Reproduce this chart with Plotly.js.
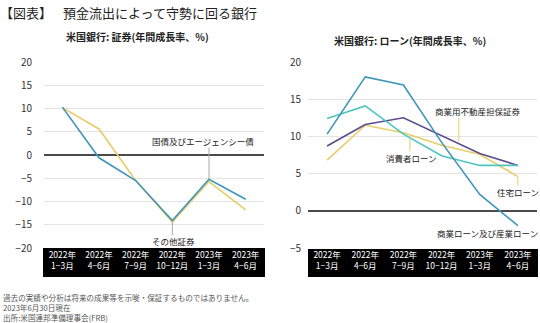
<!DOCTYPE html>
<html>
<head>
<meta charset="utf-8">
<script src="https://cdn.plot.ly/plotly-3.0.1.min.js"></script>
<style>
html,body{margin:0;padding:0;background:#fff;}
#chart{width:540px;height:323px;}
</style>
</head>
<body>
<div id="chart"></div>
<script>
// Categories (quarters)
const categories = ["2022年<br>1−3月","2022年<br>4−6月","2022年<br>7−9月","2022年<br>10−12月","2023年<br>1−3月","2023年<br>4−6月"];

// Left chart: securities (annual growth %)
const govAgencyBonds = [10.3, -0.6, -5.5, -14.1, -5.2, -9.5];
const otherSecurities = [10.2, 5.6, -5.5, -14.4, -5.7, -11.8];

// Right chart: loans (annual growth %)
const ciLoans = [10.3, 18.0, 16.9, 9.2, 2.2, -2.0];
const consumerLoans = [12.4, 14.1, 10.3, 7.4, 6.1, 6.1];
const cmbs = [8.7, 11.6, 12.5, 10.1, 7.7, 6.1];
const residentialLoans = [6.8, 11.5, 10.5, 8.8, 7.6, 4.6];

const yTicksLeft = [-20,-15,-10,-5,0,5,10,15,20];
const yTicksRight = [-5,0,5,10,15,20];

const footnotes = [
  '過去の実績や分析は将来の成果等を示唆・保証するものではありません。',
  '2023年6月30日現在',
  '出所:米国連邦準備理事会(FRB)'
];

const FONT = '"Noto Sans CJK JP", "Noto Sans", sans-serif';
const idx = categories.map((_, i) => i);

function line(y, color, xa, ya, name) {
  return {x: idx, y: y, type: 'scatter', mode: 'lines', name: name,
    line: {color: color, width: 1.6}, xaxis: xa, yaxis: ya, hoverinfo: 'skip'};
}

const traces = [
  line(otherSecurities, '#e8cd68', 'x', 'y', 'その他証券'),
  line(govAgencyBonds, '#3f95ba', 'x', 'y', '国債及びエージェンシー債'),
  line(residentialLoans, '#e8cd68', 'x2', 'y2', '住宅ローン'),
  line(cmbs, '#5b4d8d', 'x2', 'y2', '商業用不動産担保証券'),
  line(consumerLoans, '#4cc6bf', 'x2', 'y2', '消費者ローン'),
  line(ciLoans, '#3f95ba', 'x2', 'y2', '商業ローン及び産業ローン')
];

const W = 540, PT = 62, PB = 248, PH = PB - PT;
const px = v => v / W;
const py = v => (PB - v) / PH;

const xCommon = {
  tickmode: 'array', tickvals: idx, ticktext: categories,
  range: [-0.5, 5.5], showgrid: false, zeroline: false, showline: false,
  ticks: '', tickfont: {family: FONT, size: 8.5, color: '#ffffff'},
  fixedrange: true, ticklabelstandoff: 0
};
const yCommon = {
  dtick: 5, showgrid: true, gridcolor: '#e4e4e4', gridwidth: 1,
  zeroline: true, zerolinecolor: '#4a4a4a', zerolinewidth: 1.5,
  showline: false, ticks: '', tickfont: {family: FONT, size: 10, color: '#333'},
  fixedrange: true
};

const annText = (text, x, y, xref, yref, size, extra) => Object.assign({
  text: text, x: x, y: y, xref: xref, yref: yref, showarrow: false,
  font: {family: FONT, size: size, color: '#222'}, xanchor: 'center', yanchor: 'middle'
}, extra || {});

const noteFont = {family: FONT, size: 7.6, color: '#555'};

const layout = {
  width: 540, height: 323,
  margin: {l: 0, r: 0, t: PT, b: 323 - PB, pad: 0},
  paper_bgcolor: '#ffffff', plot_bgcolor: '#ffffff',
  showlegend: false,
  font: {family: FONT},
  xaxis: Object.assign({}, xCommon, {domain: [px(44), px(264)], anchor: 'y'}),
  yaxis: Object.assign({}, yCommon, {range: [-20, 20], tickvals: yTicksLeft, anchor: 'x', ticklabelstandoff: 11}),
  xaxis2: Object.assign({}, xCommon, {domain: [px(308), px(537)], anchor: 'y2'}),
  yaxis2: Object.assign({}, yCommon, {range: [-5, 20], tickvals: yTicksRight, anchor: 'x2', ticklabelstandoff: 6}),
  shapes: [
    {type: 'rect', xref: 'paper', yref: 'paper', x0: px(43), x1: px(265), y0: py(248), y1: py(277),
     fillcolor: '#000', line: {width: 0}, layer: 'below'},
    {type: 'rect', xref: 'paper', yref: 'paper', x0: px(308), x1: px(538), y0: py(249), y1: py(277),
     fillcolor: '#000', line: {width: 0}, layer: 'below'},
    // leader lines
    {type: 'line', xref: 'x', yref: 'y', x0: 4, x1: 4, y0: -5.2, y1: 1.6, line: {color: '#aaa', width: 1}},
    {type: 'line', xref: 'x', yref: 'y', x0: 3, x1: 3, y0: -14.3, y1: -17.3, line: {color: '#aaa', width: 1}},
    {type: 'line', xref: 'x2', yref: 'y2', x0: 3.45, x1: 3.45, y0: 9.3, y1: 12.5, line: {color: '#e8cd68', width: 1}},
    {type: 'line', xref: 'x2', yref: 'y2', x0: 2.17, x1: 2.17, y0: 8.0, y1: 9.8, line: {color: '#e8cd68', width: 1}},
    {type: 'line', xref: 'x2', yref: 'y2', x0: 5, x1: 5, y0: 3.4, y1: 4.6, line: {color: '#e8cd68', width: 1}}
  ],
  annotations: [
    annText('【図表】', px(-2), py(12), 'paper', 'paper', 13, {xanchor: 'left'}),
    annText('預金流出によって守勢に回る銀行', px(61), py(12), 'paper', 'paper', 13, {xanchor: 'left'}),
    annText('<b>米国銀行: 証券(年間成長率、%)</b>', px(137.5), py(37), 'paper', 'paper', 10),
    annText('<b>米国銀行: ローン(年間成長率、%)</b>', px(410), py(40), 'paper', 'paper', 10),
    annText('国債及びエージェンシー債', 3.83, 3.1, 'x', 'y', 8.5),
    annText('その他証券', 3.02, -18.6, 'x', 'y', 8.5),
    annText('商業用不動産担保証券', 3.95, 13.4, 'x2', 'y2', 8.5),
    annText('消費者ローン', 2.22, 7.1, 'x2', 'y2', 8.5),
    annText('住宅ローン', 4.99, 2.5, 'x2', 'y2', 8.5),
    annText('商業ローン及び産業ローン', 4.2, -3.0, 'x2', 'y2', 8.5),
    annText(footnotes.join('<br>'), px(2), py(307.5), 'paper', 'paper', 7.6,
      {xanchor: 'left', align: 'left', borderpad: 0, font: noteFont})
  ]
};

Plotly.newPlot('chart', traces, layout, {staticPlot: true, displayModeBar: false});
</script>
</body>
</html>
